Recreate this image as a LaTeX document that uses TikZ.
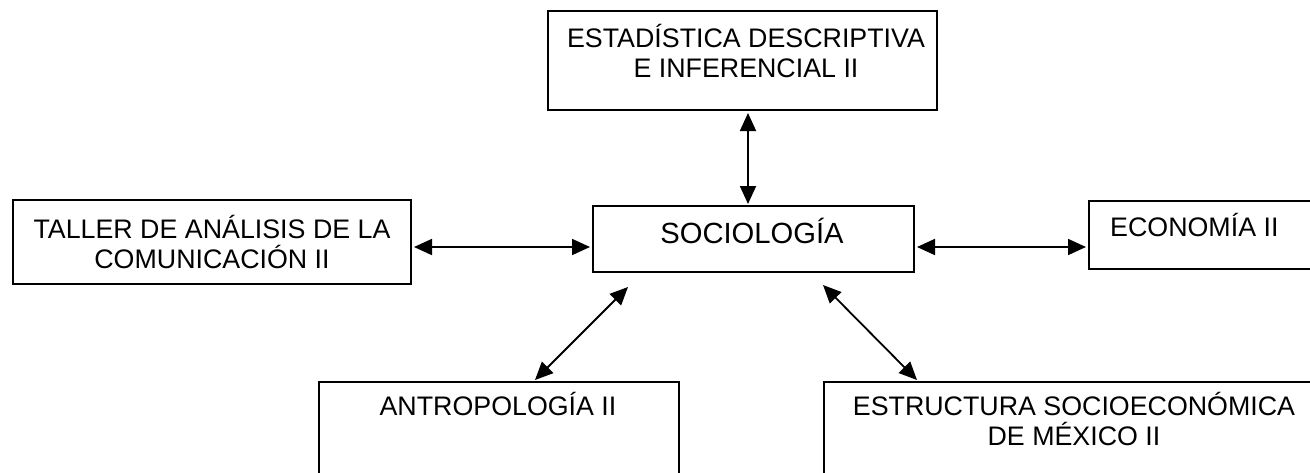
\documentclass[tikz,border=0pt]{standalone}
\usepackage{fontspec}
\setmainfont{Liberation Sans}
\usetikzlibrary{arrows.meta,calc}
\begin{document}
\begin{tikzpicture}[x=1pt,y=-1pt,
  box/.style={draw, line width=2pt, inner sep=0pt, anchor=north west},
  lbl/.style={font=\fontsize{26.8}{30}\selectfont, align=center, inner sep=0pt, anchor=base},
  link/.style={line width=1.8pt, {Triangle[length=18pt,width=16pt]}-{Triangle[length=18pt,width=16pt]}}]
\useasboundingbox (0,0) rectangle (1310,472);
\clip (0,0) rectangle (1310,472);
% boxes
\node[box, minimum width=389pt, minimum height=99pt] (est) at (547,10) {};
\node[box, minimum width=321pt, minimum height=66pt] (soc) at (592,205) {};
\node[box, minimum width=398pt, minimum height=84pt] (tal) at (12,199) {};
\node[box, minimum width=240pt, minimum height=68pt] (eco) at (1088,200) {};
\node[box, minimum width=360pt, minimum height=110pt] (ant) at (318,381) {};
\node[box, minimum width=510pt, minimum height=110pt] (estr) at (823,381) {};
% labels (base = baseline of the last line)
\node[lbl] (testd) at (746,77) {ESTADÍSTICA DESCRIPTIVA\\E INFERENCIAL II};
\node[lbl, font=\fontsize{29.2}{33}\selectfont] (tsoc) at (752,243) {SOCIOLOGÍA};
\node[lbl] (ttal) at (212,268) {TALLER DE ANÁLISIS DE LA\\COMUNICACIÓN II};
\node[lbl, anchor=base west] (teco) at (1110,236) {ECONOMÍA II};
\node[lbl] (tant) at (498,415) {ANTROPOLOGÍA II};
\node[lbl] (testr) at (1074,445) {ESTRUCTURA SOCIOECONÓMICA\\DE MÉXICO II};
% connector helpers
\coordinate (vx) at (748,0);
\coordinate (hy) at (0,247);
\coordinate (dl) at (628,287);
\coordinate (dlx) at (535,0);
\coordinate (dr) at (823,285);
\coordinate (drx) at (917,0);
% connectors
\draw[link] ($(est.south -| vx)+(0,2)$) -- ($(soc.north -| vx)+(0,-1)$);
\draw[link] ($(tal.east |- hy)+(2,0)$) -- ($(soc.west |- hy)+(-2,0)$);
\draw[link] ($(soc.east |- hy)+(2,0)$) -- ($(eco.west |- hy)+(-2,0)$);
\draw[link] (dl) -- ($(ant.north -| dlx)+(0,-1)$);
\draw[link] (dr) -- ($(estr.north -| drx)+(0,-1)$);
\end{tikzpicture}
\end{document}
